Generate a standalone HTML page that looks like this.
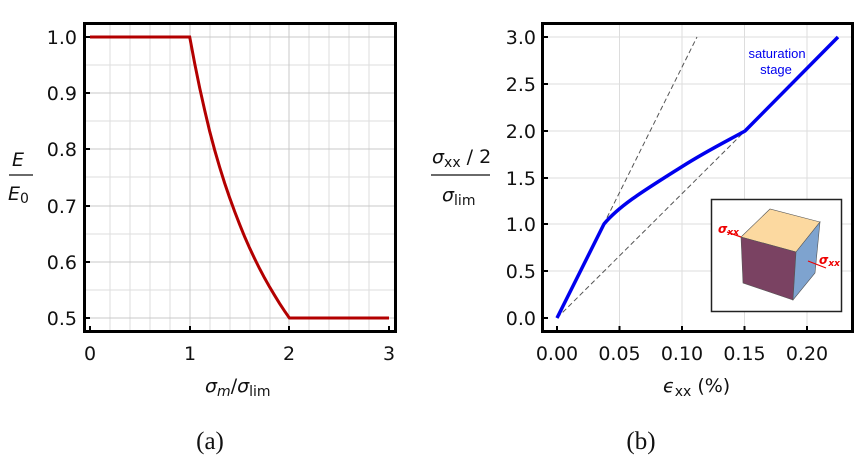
<!DOCTYPE html>
<html><head><style>
html,body{margin:0;padding:0;background:#fff;}
svg{display:block;font-family:"DejaVu Sans","Liberation Sans",sans-serif;}
</style></head><body>
<svg width="867" height="469" viewBox="0 0 867 469" xmlns="http://www.w3.org/2000/svg">
<!-- LEFT PLOT -->
<g stroke="#ddd" stroke-width="1">
<line x1="110" y1="22" x2="110" y2="333"/><line x1="130" y1="22" x2="130" y2="333"/><line x1="150" y1="22" x2="150" y2="333"/><line x1="170" y1="22" x2="170" y2="333"/>
<line x1="210" y1="22" x2="210" y2="333"/><line x1="230" y1="22" x2="230" y2="333"/><line x1="250" y1="22" x2="250" y2="333"/><line x1="270" y1="22" x2="270" y2="333"/>
<line x1="309" y1="22" x2="309" y2="333"/><line x1="329" y1="22" x2="329" y2="333"/><line x1="349" y1="22" x2="349" y2="333"/><line x1="369" y1="22" x2="369" y2="333"/>
<line x1="83" y1="65" x2="397" y2="65"/><line x1="83" y1="121" x2="397" y2="121"/><line x1="83" y1="177" x2="397" y2="177"/><line x1="83" y1="234" x2="397" y2="234"/><line x1="83" y1="290" x2="397" y2="290"/>
</g>
<g stroke="#c8c8c8" stroke-width="1">
<line x1="190" y1="22" x2="190" y2="333"/><line x1="289" y1="22" x2="289" y2="333"/>
<line x1="83" y1="37" x2="397" y2="37"/><line x1="83" y1="93" x2="397" y2="93"/><line x1="83" y1="149" x2="397" y2="149"/><line x1="83" y1="206" x2="397" y2="206"/><line x1="83" y1="262" x2="397" y2="262"/><line x1="83" y1="318" x2="397" y2="318"/>
</g>
<polyline fill="none" stroke="#b30000" stroke-width="3" points="90,37 189.7,37 194.7,63.5 199.7,88 204.7,110.3 209.6,131 214.6,149.8 219.6,167 224.6,183 229.6,197.6 234.6,211.4 239.6,224.3 244.5,236.4 249.5,247.8 254.5,258.4 259.5,268.5 264.5,277.9 269.5,286.8 274.5,295.2 279.4,303.2 284.4,310.8 289.4,318 389,318"/>
<rect x="84.5" y="23.5" width="311" height="308" fill="none" stroke="#000" stroke-width="3"/>
<g stroke="#000" stroke-width="2">
<line x1="90" y1="333" x2="90" y2="326"/><line x1="190" y1="333" x2="190" y2="326"/><line x1="289" y1="333" x2="289" y2="326"/><line x1="389" y1="333" x2="389" y2="326"/>
<line x1="83" y1="37" x2="90" y2="37"/><line x1="83" y1="93" x2="90" y2="93"/><line x1="83" y1="149" x2="90" y2="149"/><line x1="83" y1="206" x2="90" y2="206"/><line x1="83" y1="262" x2="90" y2="262"/><line x1="83" y1="318" x2="90" y2="318"/>
</g>
<g font-size="19" fill="#111" text-anchor="end">
<text x="77" y="44">1.0</text><text x="77" y="100">0.9</text><text x="77" y="156">0.8</text><text x="77" y="213">0.7</text><text x="77" y="269">0.6</text><text x="77" y="325">0.5</text>
</g>
<g font-size="19" fill="#111" text-anchor="middle">
<text x="90" y="360">0</text><text x="190" y="360">1</text><text x="289" y="360">2</text><text x="389" y="360">3</text>
</g>
<g font-size="19" fill="#111" font-style="italic">
<text x="12" y="166">E</text>
<line x1="9" y1="175" x2="33" y2="175" stroke="#111" stroke-width="1.2"/>
<text x="8" y="200">E<tspan font-style="normal" font-size="14" dy="3">0</tspan></text>
<text x="205" y="392">σ<tspan font-size="14" dy="4">m</tspan><tspan dy="-4" font-style="normal">/</tspan>σ<tspan font-style="normal" font-size="14" dy="4">lim</tspan></text>
</g>
<!-- RIGHT PLOT -->
<g stroke="#ddd" stroke-width="1">
<line x1="619.5" y1="22" x2="619.5" y2="333"/><line x1="682" y1="22" x2="682" y2="333"/><line x1="744.5" y1="22" x2="744.5" y2="333"/><line x1="807" y1="22" x2="807" y2="333"/>
<line x1="541" y1="37" x2="854" y2="37"/><line x1="541" y1="84" x2="854" y2="84"/><line x1="541" y1="131" x2="854" y2="131"/><line x1="541" y1="178" x2="854" y2="178"/><line x1="541" y1="224" x2="854" y2="224"/><line x1="541" y1="271" x2="854" y2="271"/>
</g>
<line x1="557" y1="318" x2="697" y2="37" stroke="#555" stroke-width="1" stroke-dasharray="5,3"/>
<line x1="557" y1="318" x2="745" y2="131" stroke="#555" stroke-width="1" stroke-dasharray="5,3"/>
<path fill="none" stroke="#0000ee" stroke-width="3.5" stroke-linejoin="round" d="M557,318 L604,224 C620,205 645,190 683,166 C705,152 725,142 745,131 L838,37"/>
<text x="777" y="58" font-size="13" fill="#0000ee" font-family="Liberation Sans,sans-serif" text-anchor="middle">saturation</text>
<text x="776" y="74" font-size="13" fill="#0000ee" font-family="Liberation Sans,sans-serif" text-anchor="middle">stage</text>
<rect x="711.5" y="199.5" width="130" height="112" fill="#fff" stroke="#222" stroke-width="1.5"/>
<polygon points="741,237 770,209 820,222 796,252" fill="#fcd9a0" stroke="#555" stroke-width="0.6"/>
<polygon points="741,237 796,252 793,300 743,283" fill="#7a4262" stroke="#555" stroke-width="0.6"/>
<polygon points="796,252 820,222 815,273 793,300" fill="#7ea3cf" stroke="#555" stroke-width="0.6"/>
<line x1="727" y1="232" x2="741" y2="237" stroke="#e00" stroke-width="1.2"/>
<line x1="808" y1="261" x2="826" y2="268" stroke="#e00" stroke-width="1.2"/>
<text x="718" y="233" font-size="12" fill="#e00" font-weight="bold" font-style="italic">σ<tspan font-size="9" dy="2">xx</tspan></text>
<text x="819" y="264" font-size="12" fill="#e00" font-weight="bold" font-style="italic">σ<tspan font-size="9" dy="2">xx</tspan></text>
<rect x="542.5" y="23.5" width="310" height="308" fill="none" stroke="#000" stroke-width="3"/>
<g stroke="#000" stroke-width="2">
<line x1="557" y1="333" x2="557" y2="326"/><line x1="619.5" y1="333" x2="619.5" y2="326"/><line x1="682" y1="333" x2="682" y2="326"/><line x1="744.5" y1="333" x2="744.5" y2="326"/><line x1="807" y1="333" x2="807" y2="326"/>
<line x1="541" y1="37" x2="548" y2="37"/><line x1="541" y1="84" x2="548" y2="84"/><line x1="541" y1="131" x2="548" y2="131"/><line x1="541" y1="178" x2="548" y2="178"/><line x1="541" y1="224" x2="548" y2="224"/><line x1="541" y1="271" x2="548" y2="271"/><line x1="541" y1="318" x2="548" y2="318"/>
</g>
<g font-size="19" fill="#111" text-anchor="end">
<text x="536" y="44">3.0</text><text x="536" y="91">2.5</text><text x="536" y="138">2.0</text><text x="536" y="185">1.5</text><text x="536" y="231">1.0</text><text x="536" y="278">0.5</text><text x="536" y="325">0.0</text>
</g>
<g font-size="19" fill="#111" text-anchor="middle">
<text x="557" y="360">0.00</text><text x="619.5" y="360">0.05</text><text x="682" y="360">0.10</text><text x="744.5" y="360">0.15</text><text x="807" y="360">0.20</text>
</g>
<g font-size="19" fill="#111">
<text x="432" y="163" font-style="italic">σ<tspan font-style="normal" font-size="14" dy="4">xx</tspan><tspan font-style="normal" dy="-4"> / 2</tspan></text>
<line x1="431" y1="175" x2="490" y2="175" stroke="#111" stroke-width="1.2"/>
<text x="442" y="201" font-style="italic">σ<tspan font-style="normal" font-size="14" dy="4">lim</tspan></text>
<text x="663" y="392" font-style="italic">ϵ<tspan font-style="normal" font-size="14" dy="4">xx</tspan><tspan font-style="normal" dy="-4"> (%)</tspan></text>
</g>
<g font-family="Liberation Serif,serif" font-size="25" fill="#111" text-anchor="middle">
<text x="210" y="449">(a)</text><text x="641" y="449">(b)</text>
</g>
</svg>
</body></html>
